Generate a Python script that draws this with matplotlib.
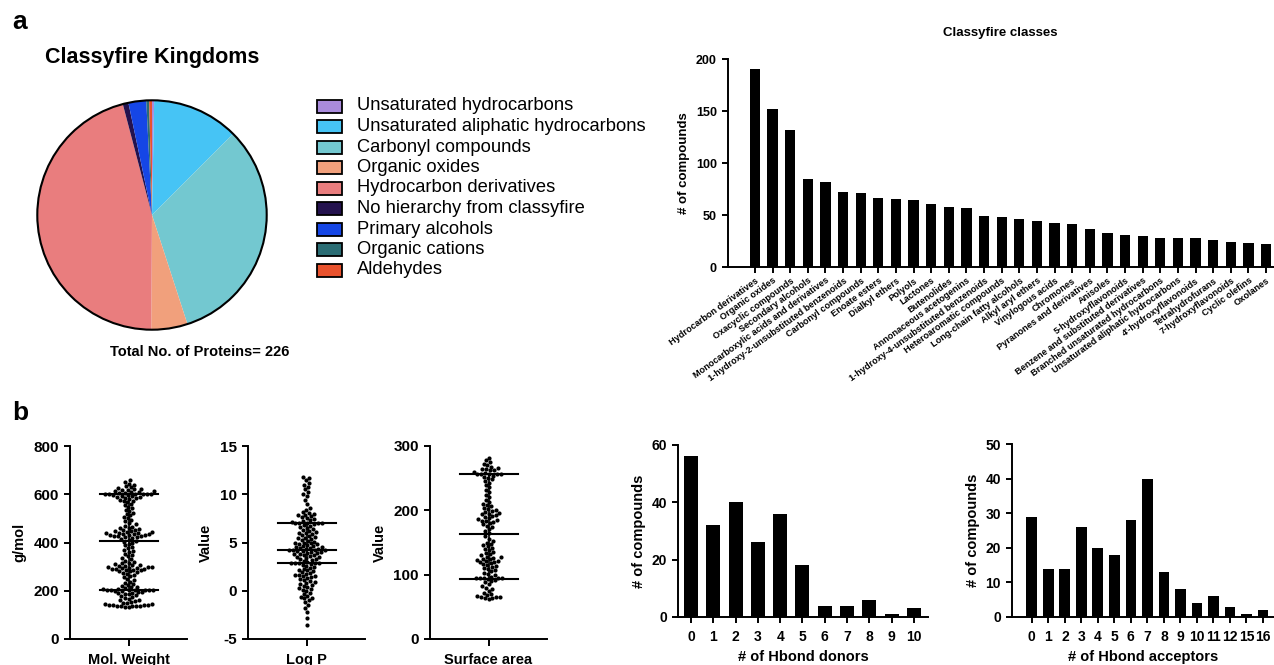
import numpy as np
import matplotlib
matplotlib.use("Agg")
import matplotlib.pyplot as plt
from matplotlib.patches import Rectangle, Circle

plt.rcParams['font.family'] = ['Liberation Sans', 'DejaVu Sans']
plt.rcParams['axes.unicode_minus'] = False

# ---------------- data ----------------
kingdom_labels = ["Unsaturated hydrocarbons", "Unsaturated aliphatic hydrocarbons",
                  "Carbonyl compounds", "Organic oxides", "Hydrocarbon derivatives",
                  "No hierarchy from classyfire", "Primary alcohols", "Organic cations",
                  "Aldehydes"]
kingdom_pct = [0.3, 12.2, 32.5, 5.1, 45.8, 0.8, 2.5, 0.4, 0.4]
kingdom_colors = ["#a98bdc", "#46c4f5", "#73c8d0", "#f1a07c", "#e97d7e",
                  "#24124e", "#1546e6", "#2b6d74", "#e9522d"]

class_labels = ["Hydrocarbon derivatives", "Organic oxides", "Oxacyclic compounds",
                "Secondary alcohols", "Monocarboxylic acids and derivatives",
                "1-hydroxy-2-unsubstituted benzenoids", "Carbonyl compounds",
                "Enoate esters", "Dialkyl ethers", "Polyols", "Lactones", "Butenolides",
                "Annonaceous acetogenins", "1-hydroxy-4-unsubstituted benzenoids",
                "Heteroaromatic compounds", "Long-chain fatty alcohols", "Alkyl aryl ethers",
                "Vinylogous acids", "Chromones", "Pyranones and derivatives", "Anisoles",
                "5-hydroxyflavonoids", "Benzene and substituted derivatives",
                "Branched unsaturated hydrocarbons", "Unsaturated aliphatic hydrocarbons",
                "4'-hydroxyflavonoids", "Tetrahydrofurans", "7-hydroxyflavonoids",
                "Cyclic olefins", "Oxolanes"]
class_counts = [190, 152, 132, 85, 82, 72, 71, 66, 65, 64, 61, 58, 57, 49, 48, 46, 44,
                42, 41, 37, 33, 31, 30, 28, 28, 28, 26, 24, 23, 22]

mol_weight = [132, 134, 135, 135, 136, 137, 138, 139, 140, 140, 142, 144, 145, 148,
              150, 153, 156, 160,
              163, 166, 170, 174, 178, 181, 185, 188, 190, 192, 194, 196, 198,
              200, 202, 204, 205, 205, 205, 205, 205, 207, 209, 211,
              214, 217, 220, 224, 228, 232,
              238, 245, 250, 256, 262, 266, 270, 274, 277, 280, 282, 284, 286,
              288, 290, 291, 292, 294, 295, 296, 298, 299, 300, 302,
              304, 306, 308, 310, 313, 316, 320, 324, 330, 336,
              342, 348, 354, 360, 365, 370, 376, 382, 388, 394,
              400, 404, 408, 412, 416, 419, 422, 424, 425, 427, 428, 430, 431, 432, 434,
              435, 436, 438, 440, 441, 442, 444, 446, 448, 450, 453, 456, 459, 462, 466,
              470, 476, 482, 488, 494,
              500, 506, 512, 518, 524, 530, 536, 542, 548, 554, 560, 566,
              570, 574, 578, 581, 584, 586, 588, 590, 592, 594, 596, 598,
              600, 600, 600, 600, 600, 602, 604, 606,
              608, 610, 612, 614, 616, 618, 620, 623, 626, 629,
              633, 638, 644, 650, 660]
mol_weight_lines = [205, 405, 600]

log_p = [-3.5, -2.8, -2.2, -1.8, -1.5, -1.2, -1.0, -0.8, -0.7, -0.6, -0.5, -0.3, -0.2,
         0.0, 0.1, 0.2, 0.3, 0.4, 0.5, 0.6, 0.7, 0.8, 0.9, 1.0, 1.1, 1.2, 1.3, 1.4, 1.5,
         1.5, 1.6, 1.6, 1.7, 1.8, 1.9, 2.0, 2.1, 2.2, 2.3, 2.4, 2.5, 2.6, 2.7, 2.8,
         2.9, 2.9, 2.9, 2.9, 2.9, 3.0, 3.1, 3.2, 3.3, 3.3, 3.4, 3.5, 3.5,
         3.6, 3.7, 3.7, 3.8, 3.8, 3.9, 3.9, 4.0, 4.0, 4.1, 4.1, 4.2, 4.2, 4.2, 4.2,
         4.3, 4.3, 4.4, 4.4, 4.5, 4.5, 4.6, 4.6, 4.7, 4.8, 4.8, 4.9, 5.0, 5.0,
         5.1, 5.2, 5.3, 5.4, 5.5, 5.5, 5.6, 5.7, 5.8, 5.9, 6.0, 6.0, 6.1, 6.2, 6.3, 6.4,
         6.5, 6.6, 6.7, 6.8, 6.9, 7.0, 7.0, 7.0, 7.0, 7.0, 7.1, 7.2, 7.3,
         7.4, 7.5, 7.6, 7.7, 7.8, 7.9, 8.0, 8.1, 8.2, 8.4, 8.6, 9.0, 9.4, 9.8, 10.0,
         10.2, 10.5, 10.8, 11.0, 11.2, 11.5, 11.7, 11.8]
log_p_lines = [2.9, 4.25, 7.05]

surface_area = [62, 63, 64, 65, 65, 66, 67, 68, 70, 72, 75, 78, 80, 82, 85, 88,
                90, 92, 94, 95, 95, 95, 95, 95, 97, 99, 101, 103, 105,
                107, 109, 110, 112, 114, 115, 116, 118, 119, 120, 121,
                122, 123, 124, 125, 126, 127, 128, 130, 132, 134, 136, 138, 140, 142,
                144, 146, 148, 150, 153, 156, 160, 164, 168, 171, 174, 176, 178, 180,
                182, 183, 184, 185, 186, 188, 190, 191, 192, 194, 195, 196, 198, 199,
                200, 202, 204, 206, 208, 210, 213, 216, 220, 224, 228, 232, 236, 240,
                243, 246, 248, 250, 252, 254, 256, 256, 256, 256, 256,
                258, 260, 262, 263, 264, 265, 266,
                268, 270, 272, 275, 278, 282]
surface_area_lines = [93, 163, 256]

donor_labels = ["0", "1", "2", "3", "4", "5", "6", "7", "8", "9", "10"]
donor_counts = [56, 32, 40, 26, 36, 18, 4, 4, 6, 1, 3]
acceptor_labels = ["0", "1", "2", "3", "4", "5", "6", "7", "8", "9", "10", "11", "12",
                   "15", "16"]
acceptor_counts = [29, 14, 14, 26, 20, 18, 28, 40, 13, 8, 4, 6, 3, 1, 2]

# ---------------- figure ----------------
W, H = 1274, 665
fig = plt.figure(figsize=(W / 100, H / 100), dpi=100)


def px_axes(l, t, r, b):
    return fig.add_axes([l / W, 1 - b / H, (r - l) / W, (b - t) / H])


def fx(x):
    return x / W


def fy(y):
    return 1 - y / H


LW = 1.4


def style_axes(ax):
    for s in ["top", "right"]:
        ax.spines[s].set_visible(False)
    for s in ["left", "bottom"]:
        ax.spines[s].set_linewidth(LW)
    ax.tick_params(width=LW, length=4.5, direction="out")
    for lab in ax.get_yticklabels() + ax.get_xticklabels():
        lab.set_fontweight("bold")


# panel letters
fig.text(fx(12), fy(22), "a", fontsize=19, fontweight="bold", va="center", ha="left")
fig.text(fx(12), fy(413), "b", fontsize=19, fontweight="bold", va="center", ha="left")

# ---- pie ----
fig.text(fx(152), fy(57), "Classyfire Kingdoms", fontsize=15.5, fontweight="bold",
         ha="center", va="center")
axp = px_axes(35, 98, 269, 332)
axp.pie(kingdom_pct, colors=kingdom_colors, startangle=90, counterclock=False,
        wedgeprops=dict(linewidth=0))
axp.add_patch(Circle((0, 0), 1, fill=False, edgecolor="black", linewidth=1.5))
axp.set_xlim(-1.02, 1.02)
axp.set_ylim(-1.02, 1.02)
axp.set_aspect("equal")
axp.axis("off")

for i, (lab, col) in enumerate(zip(kingdom_labels, kingdom_colors)):
    yc = 106 + i * 20.5
    fig.patches.append(Rectangle((fx(317), fy(yc + 6.5)), 25 / W, 13 / H,
                                 transform=fig.transFigure, facecolor=col,
                                 edgecolor="black", linewidth=1.3))
    fig.text(fx(357), fy(yc), lab, fontsize=13.2, ha="left", va="center")

fig.text(fx(200), fy(352), "Total No. of Proteins= 226", fontsize=10.5,
         fontweight="bold", ha="center", va="center")

# ---- classes bar chart ----
fig.text(fx(1000), fy(33), "Classyfire classes", fontsize=9.5, fontweight="bold",
         ha="center", va="center")
axc = px_axes(728, 59, 1274, 267)
xc = np.arange(len(class_counts))
axc.bar(xc, class_counts, width=0.58, color="black")
axc.set_ylim(0, 200)
axc.set_yticks([0, 50, 100, 150, 200])
axc.set_xlim(-1.53, len(class_counts) - 1 + 0.45)
axc.set_xticks(xc)
axc.set_xticklabels(class_labels, rotation=36, ha="right", rotation_mode="anchor",
                    fontsize=6.6)
axc.set_ylabel("# of compounds", fontsize=9.5, fontweight="bold", labelpad=4)
style_axes(axc)
axc.tick_params(axis="y", labelsize=9)
axc.tick_params(axis="x", pad=2)


# ---- swarm plots ----
def swarm_offsets(values, ax, dot_px=4.0):
    """beeswarm offsets in data x-units, computed from pixel geometry of the axes"""
    bbox = ax.get_position()
    h_px = bbox.height * H
    w_px = bbox.width * W
    y0, y1 = ax.get_ylim()
    x0, x1 = ax.get_xlim()
    ypx = (np.asarray(values, float) - y0) / (y1 - y0) * h_px
    order = np.argsort(ypx, kind="stable")
    placed_x, placed_y = [], []
    xs = np.zeros(len(values))
    for idx in order:
        y = ypx[idx]
        intervals = []
        for px_, py_ in zip(placed_x, placed_y):
            dy = abs(py_ - y)
            if dy < dot_px:
                dx = np.sqrt(dot_px ** 2 - dy ** 2)
                intervals.append((px_ - dx, px_ + dx))
        cands = [0.0] + [a for a, b in intervals] + [b for a, b in intervals]
        cands = sorted(cands, key=abs)
        chosen = 0.0
        for c in cands:
            if all(not (a + 1e-6 < c < b - 1e-6) for a, b in intervals):
                chosen = c
                break
        xs[idx] = chosen
        placed_x.append(chosen)
        placed_y.append(y)
    return xs / w_px * (x1 - x0)


def scatter_panel(l, values, lines, ylim, yticks, ylabel, xlabel):
    ax = px_axes(l, 446, l + 117, 639)
    ax.set_xlim(-1, 1)
    ax.set_ylim(*ylim)
    ax.set_yticks(yticks)
    ax.set_xticks([0])
    ax.set_xticklabels([xlabel], fontsize=10.5)
    ax.tick_params(axis="x", pad=5)
    offs = swarm_offsets(values, ax)
    ax.scatter(offs, values, s=9, color="black", linewidths=0, zorder=3)
    half = 29 / 58.5
    for v in lines:
        ax.plot([-half, half], [v, v], color="black", lw=1.5, zorder=4)
    ax.plot([0, 0], [lines[0], lines[-1]], color="black", lw=1.2, zorder=2)
    ax.set_ylabel(ylabel, fontsize=10.5, fontweight="bold", labelpad=5)
    style_axes(ax)
    ax.tick_params(axis="y", labelsize=11)
    ax.tick_params(axis="x", length=5)
    return ax


scatter_panel(70, mol_weight, mol_weight_lines, (0, 800), [0, 200, 400, 600, 800],
              "g/mol", "Mol. Weight")
scatter_panel(248, log_p, log_p_lines, (-5, 15), [-5, 0, 5, 10, 15], "Value", "Log P")
scatter_panel(430, surface_area, surface_area_lines, (0, 300), [0, 100, 200, 300],
              "Value", "Surface area")

# ---- H-bond donors ----
axd = px_axes(678, 445, 928, 617)
xd = np.arange(len(donor_counts))
axd.bar(xd, donor_counts, width=0.63, color="black")
axd.set_xlim(-0.58, len(donor_counts) - 1 + 0.63)
axd.set_ylim(0, 60)
axd.set_yticks([0, 20, 40, 60])
axd.set_xticks(xd)
axd.set_xticklabels(donor_labels, fontsize=10)
axd.set_ylabel("# of compounds", fontsize=10.5, fontweight="bold", labelpad=4)
axd.set_xlabel("# of Hbond donors", fontsize=10.5, fontweight="bold", labelpad=4)
style_axes(axd)
axd.tick_params(axis="y", labelsize=10)
axd.tick_params(axis="x", pad=5)

# ---- H-bond acceptors ----
axa = px_axes(1012, 444, 1274, 617)
xa = np.arange(len(acceptor_counts))
axa.bar(xa, acceptor_counts, width=0.65, color="black")
axa.set_xlim(-1.2, len(acceptor_counts) - 1 + 0.67)
axa.set_ylim(0, 50)
axa.set_yticks([0, 10, 20, 30, 40, 50])
axa.set_xticks(xa)
axa.set_xticklabels(acceptor_labels, fontsize=10)
axa.set_ylabel("# of compounds", fontsize=10.5, fontweight="bold", labelpad=4)
axa.set_xlabel("# of Hbond acceptors", fontsize=10.5, fontweight="bold", labelpad=4)
style_axes(axa)
axa.tick_params(axis="y", labelsize=10)
axa.tick_params(axis="x", pad=5)

fig.savefig("out.png", dpi=100)
